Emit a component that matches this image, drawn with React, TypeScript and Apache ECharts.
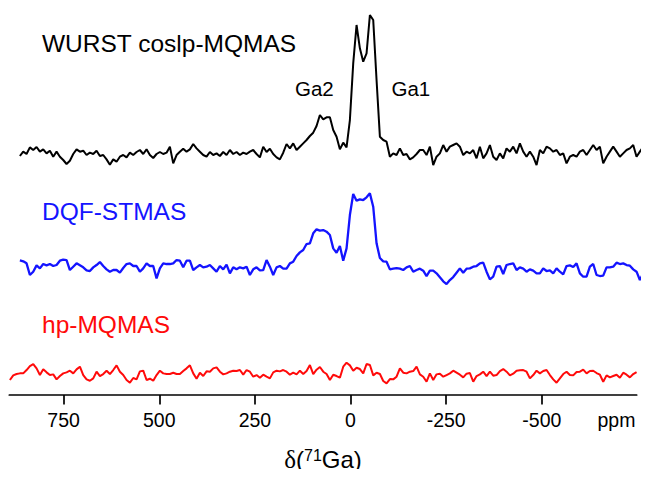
import React, { useEffect, useRef } from "react";
import * as echarts from "echarts";

// Spectra sampled on a uniform chemical-shift grid (ppm), intensities in arbitrary units
const STEP_PPM = 8.717;
const BLACK_START_PPM = 864.3;
const BLUE_START_PPM = 864.3;
const RED_START_PPM = 890.4;

const wurstIntensity = [
  -3, 10, 3, 23, 15, 24, 10, 17, 5, 13,
  -5, 10, -5, -15, -27, -17, 3, 17, 10, 13,
  0, 7, 3, 13, -3, 0, -13, -29, -13, -20,
  -5, 0, -7, 7, 0, 9, 15, 3, 17, 0,
  -9, 3, 9, 3, 7, 25, -25, 0, 10, 19,
  10, 17, 33, 20, 10, 0, -5, 9, 0, 5,
  -3, 9, 0, 15, 3, 9, 0, 7, 3, 10,
  15, 3, -7, 25, 9, 19, 3, -7, -13, 7,
  33, 20, 35, 15, 25, 35, 45, 57, 67, 87,
  120, 107, 113, 113,
  75, 55, 17, 37, 23, 105, 275, 390, 320, 280,
  305, 420, 405, 225, 55, 45, 40, -5, 5, 0,
  20, 0, 3, -13, -7, 3, 15, 15, 0, 25,
  -30, -5, 5, 30, 10, 25, 30, 35, 25, 0,
  10, 5, 15, -10, 25, -10, 5, 30, -5, -15,
  5, -10, 20, 10, 25, 5, 35, 10, -5, 10,
  -5, -30, 15, 5, 25, 20, 10, 15, 0, 5,
  -25, -5, 0, -5, 10, 15, 0, 15, 30, 15,
  25, -25, -5, 10, 25, 10, -5, 5, 15, 20,
  30, -5, 10, 25, -5,
];

const dqfIntensity = [
  14, 11, 5, -30, -20, -1, -10, 3, -1, 3,
  -3, 0, 13, 16, 15, -15, -5, 5, -1, -7,
  -16, -18, -7, 0, 9, -3, -13, -20, -15, -15,
  -23, -9, 3, 5, -3, -3, -20, -10, 5, -3,
  -3, -40, -10, 5, 3, 3, 5, 15, 13, -7,
  13, 13, -15, -7, 0, -7, -5, 0, -10, -20,
  -3, -13, 1, -25, -7, -13, -7, -10, -5, -30,
  -13, -7, -16, -15, 15, -5, -30, -7, -3, -11,
  -11, 5, 10, 27, 38, 45, 63, 65, 95, 107,
  103, 105, 100, 90,
  50, 37, 57, 13, 50, 150, 213, 193, 197, 195,
  203, 215, 175, 65, 21, 11, 10, -13, -11, -9,
  -11, -15, -7, -3, -20, -15, -11, -17, -33, -17,
  -17, -25, -37, -49, -57, -45, -36, -23, -10, -23,
  -11, -10, -5, -3, 5, 7, -20, -43, -35, -5,
  -3, -27, 0, 3, 5, -15, -7, -11, -20, -13,
  -17, -25, -25, -10, -18, -16, -25, -10, -20, -28,
  -3, -1, -6, 5, -25, -35, -35, -5, 3, -30,
  -33, -32, -7, -7, -5, 7, 3, 5, 0, -2,
  -13, -20, -45, -25, -13,
];

const hpIntensity = [
  -20, -6, -2, 0, 0, 10, 22, 28, 15, -5,
  12, 3, -5, -3, -18, -8, 0, 3, 8, 0,
  12, 20, -5, -18, -22, -15, 5, -8, -2, 8,
  -2, 10, 24, 5, -5, -20, -28, -14, -18, 6,
  8, -20, -16, -22, -5, 8, 0, -2, -2, 2,
  -2, -2, 7, 15, 24, 0, -16, 2, -8, 6,
  5, 15, 18, 5, -3, 0, 5, 8, 7, 10,
  -4, 10, 5, -10, -5, -13, -4, -10, -15, 3,
  8, 6, 10, 5, -4, 2, -3, 8, -2, 7,
  25, -2, 11, 19, 5, -2, -20,
  -4, -8, -13, 20, 32, 24, 8, 17, 13, 0,
  28, 25, -6, 2, -2, -23, -30, -17, -18, -10,
  15, 2, 0, 5, 7, 20, -3, -10, -25, 0,
  -20, -3, -1, -10, -5, 0, 8, 2, -4, -12,
  -1, 1, -25, -8, -3, 5, -8, 5, -7, -5,
  7, 13, 5, -6, -1, 8, 9, 10, 5, -15,
  -5, 8, 0, 7, 10, -5, -18, -28, -15, -2,
  5, -5, -6, 4, 5, 11, 0, 7, 8, 1,
  -4, -25, -6, -12, -8, -4, -13, 2, -4, -12,
  -2, 4,
];

const tickValues = [750, 500, 250, 0, -250, -500];
const unitLabelValue = -695;
const seriesNames = ["WURST coslp-MQMAS", "DQF-STMAS", "hp-MQMAS"];
const peakLabels = ["Ga2", "Ga1"];

// vertical stacking offsets for each trace
const OFFSETS = [740, 410, 85];

function toPairs(start: number, values: number[], offset: number) {
  return values.map((v, i) => [start - STEP_PPM * i, v + offset]);
}

export default function App() {
  const ref = useRef<HTMLDivElement>(null);
  useEffect(() => {
    if (!ref.current) return;
    const chart = echarts.init(ref.current, null, { renderer: "svg" });
    const font = "Liberation Sans, Arial, sans-serif";
    const lineCommon = { type: "line", showSymbol: false, clip: false, xAxisIndex: 0, yAxisIndex: 0 };
    chart.setOption({
      animation: false,
      backgroundColor: "#ffffff",
      grid: [
        // data area (traces run slightly past the drawn axis on the right)
        { left: 9.3, right: 0, top: 0, bottom: 75.3, containLabel: false },
        // axis area
        { left: 9.3, right: 12.3, top: 0, bottom: 75.3, containLabel: false },
      ],
      xAxis: [
        {
          gridIndex: 0,
          type: "value",
          inverse: true,
          min: -780.9,
          max: 892,
          show: false,
        },
        {
          gridIndex: 1,
          type: "value",
          inverse: true,
          min: -748,
          max: 892,
          splitLine: { show: false },
          axisLine: { show: true, lineStyle: { color: "#000", width: 1.7 } },
          axisTick: {
            show: true,
            inside: false,
            length: 9.5,
            customValues: tickValues,
            lineStyle: { color: "#000", width: 1.7 },
          },
          axisLabel: {
            customValues: [...tickValues, unitLabelValue],
            formatter: (v: number) => (v === unitLabelValue ? "ppm" : String(v)),
            color: "#000",
            fontSize: 19.5,
            fontFamily: font,
            margin: 15,
          },
          name: "{d|δ}({s|71}Ga)",
          nameLocation: "middle",
          nameGap: 52,
          nameTextStyle: {
            color: "#000",
            fontSize: 24,
            fontFamily: font,
            rich: {
              d: { fontSize: 25, fontFamily: "Liberation Serif, serif", color: "#000" },
              s: { fontSize: 16, fontFamily: font, color: "#000", verticalAlign: "top", lineHeight: 24 },
            },
          },
        },
      ],
      yAxis: [
        { gridIndex: 0, type: "value", min: 0, max: 1205, show: false },
        { gridIndex: 1, type: "value", min: 0, max: 1205, show: false },
      ],
      series: [
        {
          ...lineCommon,
          name: seriesNames[0],
          data: toPairs(BLACK_START_PPM, wurstIntensity, OFFSETS[0]),
          lineStyle: { color: "#000000", width: 2 },
        },
        {
          ...lineCommon,
          name: seriesNames[1],
          data: toPairs(BLUE_START_PPM, dqfIntensity, OFFSETS[1]),
          lineStyle: { color: "#1414ff", width: 2.3 },
        },
        {
          ...lineCommon,
          name: seriesNames[2],
          data: toPairs(RED_START_PPM, hpIntensity, OFFSETS[2]),
          lineStyle: { color: "#ff0a0a", width: 2 },
        },
      ],
      graphic: [
        { type: "text", left: 42, top: 31, style: { text: seriesNames[0], fontSize: 24.5, fontFamily: font, fill: "#000" } },
        { type: "text", left: 42, top: 199, style: { text: seriesNames[1], fontSize: 24.5, fontFamily: font, fill: "#1414ff" } },
        { type: "text", left: 42, top: 312, style: { text: seriesNames[2], fontSize: 24.5, fontFamily: font, fill: "#ff0a0a" } },
        { type: "text", left: 295, top: 78, style: { text: peakLabels[0], fontSize: 20.5, fontFamily: font, fill: "#000" } },
        { type: "text", left: 391.5, top: 78, style: { text: peakLabels[1], fontSize: 20.5, fontFamily: font, fill: "#000" } },
      ],
    });
    return () => chart.dispose();
  }, []);
  return <div ref={ref} style={{ width: 649, height: 477, margin: -8 }} />;
}
